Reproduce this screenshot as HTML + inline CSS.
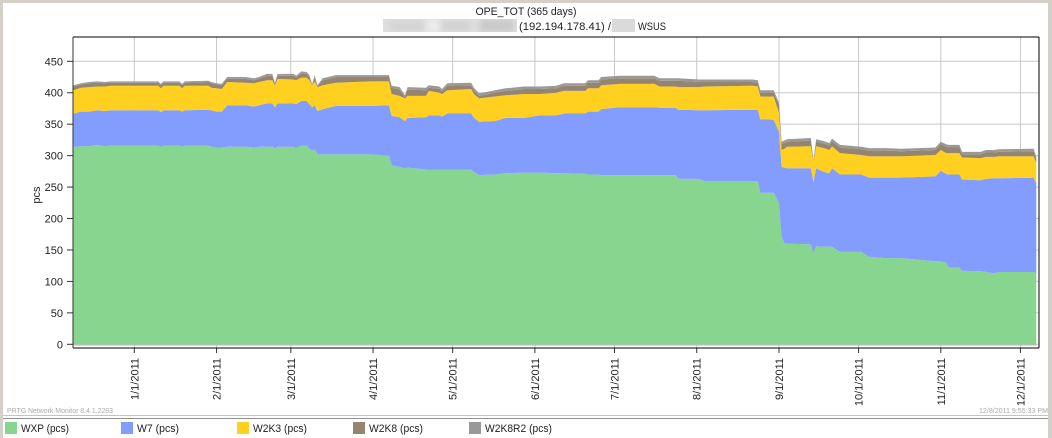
<!DOCTYPE html>
<html lang="en">
<head>
<meta charset="utf-8">
<title>OPE_TOT (365 days)</title>
<style>
html,body{margin:0;padding:0;background:#fff;width:1052px;height:438px;overflow:hidden}
svg{display:block;font-family:"Liberation Sans",Arial,sans-serif}
</style>
</head>
<body>
<svg id="chart" width="1052" height="438" viewBox="0 0 1052 438" xmlns="http://www.w3.org/2000/svg">
  <defs>
    <filter id="blurry" x="-10%" y="-30%" width="120%" height="160%"><feGaussianBlur stdDeviation="3"/></filter>
    <clipPath id="blur-clip-a"><rect x="383" y="19" width="134" height="13"/></clipPath>
  </defs>
  <rect width="1052" height="438" fill="#ffffff"/>
  <rect x="0" y="0" width="1052" height="3" fill="#d4d0c8"/>
  <rect x="0" y="0" width="3" height="438" fill="#d4d0c8"/>
  <rect x="1048" y="0" width="4" height="438" fill="#d4d0c8"/>

  <text x="526" y="15" text-anchor="middle" font-size="11" fill="#222" textLength="101" lengthAdjust="spacingAndGlyphs">OPE_TOT (365 days)</text>
  <g clip-path="url(#blur-clip-a)">
    <rect x="383" y="19" width="134" height="13" fill="#dedede"/>
    <g filter="url(#blurry)">
      <rect x="390" y="22" width="34" height="8" fill="#d2d2d2"/>
      <rect x="442" y="22" width="28" height="8" fill="#d0d0d0"/>
      <rect x="480" y="19" width="34" height="13" fill="#cacaca"/>
      <rect x="427" y="19" width="12" height="13" fill="#ececec"/>
    </g>
  </g>
  <text x="519" y="30" font-size="11" fill="#222" textLength="92" lengthAdjust="spacingAndGlyphs">(192.194.178.41) /</text>
  <rect x="612" y="19" width="23" height="13" fill="#dadada"/>
  <text x="638" y="30" font-size="11" fill="#222" textLength="28" lengthAdjust="spacingAndGlyphs">WSUS</text>

  <g id="grid"></g>
  <g id="areas"></g>
  <g id="axes"></g>

  <text x="7" y="413" font-size="7.5" fill="#aaaaaa" textLength="106" lengthAdjust="spacingAndGlyphs">PRTG Network Monitor 8.4.1.2283</text>
  <text x="979" y="413" font-size="7.5" fill="#aaaaaa" textLength="69" lengthAdjust="spacingAndGlyphs">12/8/2011 9:55:33 PM</text>
  <rect x="3" y="415" width="1045" height="1" fill="#c4c4c4"/>
  <rect x="3" y="418" width="1045" height="1" fill="#909090"/>

  <g>
    <rect x="5" y="422" width="12" height="12" fill="#88d590"/>
    <text x="21" y="432" font-size="11" fill="#222" textLength="48" lengthAdjust="spacingAndGlyphs">WXP (pcs)</text>
  </g>
  <g>
    <rect x="121" y="422" width="12" height="12" fill="#829dfe"/>
    <text x="137" y="432" font-size="11" fill="#222" textLength="42" lengthAdjust="spacingAndGlyphs">W7 (pcs)</text>
  </g>
  <g>
    <rect x="237" y="422" width="12" height="12" fill="#ffd01f"/>
    <text x="253" y="432" font-size="11" fill="#222" textLength="54" lengthAdjust="spacingAndGlyphs">W2K3 (pcs)</text>
  </g>
  <g>
    <rect x="353" y="422" width="12" height="12" fill="#958470"/>
    <text x="369" y="432" font-size="11" fill="#222" textLength="54" lengthAdjust="spacingAndGlyphs">W2K8 (pcs)</text>
  </g>
  <g>
    <rect x="469" y="422" width="12" height="12" fill="#999999"/>
    <text x="485" y="432" font-size="11" fill="#222" textLength="67" lengthAdjust="spacingAndGlyphs">W2K8R2 (pcs)</text>
  </g>
</svg>
<script>
// Days since 1 Jan 2011
const days = [-23,-20,-17,-14,-11,-9,9,10,11,17,18,19,28,29,31,33,35,42,45,47,50,52,53,54,60,61,63,65,66,67,68,69,71,76,89,96,97,100,102,103,110,111,115,116,118,127,128,130,136,140,147,153,159,162,170,171,175,176,183,196,198,204,205,213,215,233,235,236,241,243,244,245,246,255,256,257,260,262,263,266,274,277,283,289,302,304,306,307,311,312,319,321,324,326,339,340];
const wxp = [314,315,315,317,315,316,316,314,316,316,314,316,316,314,313,313,314,314,313,314,314,314,311,314,314,312,316,316,311,308,310,302,302,302,302,300,285,282,280,281,278,278,278,278,278,278,274,269,270,272,273,273,272,272,271,270,270,269,269,269,269,269,263,263,259,259,259,241,241,225,171,161,160,159,145,156,155,155,155,147,147,139,137,137,132,132,130,122,122,117,116,115,113,115,115,112];
const w7 = [53,55,55,55,56,56,56,55,56,56,56,56,57,58,57,57,66,66,65,66,69,69,66,69,69,70,71,71,71,69,70,69,72,77,77,80,78,79,75,79,83,86,86,84,89,89,86,85,85,88,87,91,92,95,96,100,100,105,108,108,107,107,110,109,113,114,114,117,116,113,111,120,120,121,113,124,119,117,125,123,123,126,128,128,135,144,141,148,148,145,145,148,151,149,150,144];
const w2k3 = [37,38,39,38,39,39,39,38,39,39,37,39,38,36,37,36,37,36,37,37,37,37,35,39,38,38,37,37,38,35,38,38,38,37,39,38,35,34,36,35,34,39,36,36,37,39,38,37,39,36,38,34,36,36,36,37,37,38,37,37,34,34,36,37,38,38,37,36,37,30,27,30,34,35,32,35,38,37,35,34,31,34,34,34,34,33,33,34,34,35,35,35,34,35,34,32];
const w2k8 = [6,5,6,6,5,5,5,5,5,5,5,5,6,7,6,6,5,6,5,5,7,7,2,5,6,4,7,6,5,0,7,1,8,9,7,7,10,10,2,10,9,5,6,4,7,6,6,4,6,7,8,8,7,8,8,9,9,9,9,9,9,9,10,8,7,6,6,6,6,12,9,9,8,9,1,7,7,7,8,9,9,9,9,8,8,9,10,9,9,5,6,7,7,7,8,6];
const w2k8r2 = [2,2,2,2,2,2,2,2,2,2,2,2,2,2,2,2,3,3,3,3,3,3,2,3,3,3,3,3,3,2,3,2,3,3,3,3,3,4,3,4,4,4,4,4,4,4,4,4,4,4,4,4,4,4,4,4,4,4,4,4,4,4,4,4,4,4,4,4,4,4,4,4,4,4,2,4,4,4,4,4,4,4,4,4,4,4,4,4,4,4,4,4,4,4,4,4];
const seriesNames = ['wxp','w7','w2k3','w2k8','w2k8r2'];
const seriesColors = ['#88d590','#829dfe','#ffd01f','#958470','#999999'];
const yTicks = [0,50,100,150,200,250,300,350,400,450];
const xTickLabels = ['1/1/2011','2/1/2011','3/1/2011','4/1/2011','5/1/2011','6/1/2011','7/1/2011','8/1/2011','9/1/2011','10/1/2011','11/1/2011','12/1/2011'];
const xTickDays = [0,31,59,90,120,151,181,212,243,273,304,334];

const NS = 'http://www.w3.org/2000/svg';
const plot = {left:73, right:1039, top:37, bottom:348};
function xScale(d){ return 134.3 + d * 2.653; }
function yScale(v){ return 344.3 - v * 0.6289; }
function make(tag, attrs, parent){
  const el = document.createElementNS(NS, tag);
  for (const k in attrs) el.setAttribute(k, attrs[k]);
  parent.appendChild(el);
  return el;
}
const gridG = document.getElementById('grid');
const areasG = document.getElementById('areas');
const axesG = document.getElementById('axes');

yTicks.forEach(function(v){
  const y = yScale(v);
  const g = make('line', {x1:plot.left, x2:plot.right, y1:y, y2:y, stroke:'#c8c8c8', 'stroke-width':1}, gridG);
  
  
  const t = make('line', {x1:plot.left-6, x2:plot.left, y1:y, y2:y, stroke:'#333', 'stroke-width':1}, axesG);
  
  
  const l = make('text', {x:plot.left-10, y:y+4, 'text-anchor':'end', 'font-size':11, fill:'#222'}, axesG);
  
  
  l.textContent = String(v);
});
xTickDays.forEach(function(d, i){
  const x = xScale(d);
  const g = make('line', {x1:x, x2:x, y1:plot.top, y2:plot.bottom, stroke:'#c8c8c8', 'stroke-width':1}, gridG);
  
  
  const t = make('line', {x1:x, x2:x, y1:plot.bottom, y2:plot.bottom+5, stroke:'#333', 'stroke-width':1}, axesG);
  
  
  const l = make('text', {x:0, y:0, 'text-anchor':'end', 'font-size':11, fill:'#222', transform:'translate(' + (x+4) + ',358) rotate(-90)'}, axesG);
  
  
  l.textContent = xTickLabels[i];
});

const seriesValues = [wxp, w7, w2k3, w2k8, w2k8r2];
let baseline = days.map(function(){ return 0; });
seriesValues.forEach(function(vals, s){
  const tops = vals.map(function(v, i){ return baseline[i] + v; });
  const upper = days.map(function(d, i){ return xScale(d).toFixed(1) + ',' + yScale(tops[i]).toFixed(1); });
  const lower = days.map(function(d, i){ return xScale(d).toFixed(1) + ',' + yScale(baseline[i]).toFixed(1); }).reverse();
  const a = make('polygon', {points:upper.concat(lower).join(' '), fill:seriesColors[s]}, areasG);
  
  
  baseline = tops;
});
const zeroLine = make('line', {x1:plot.left, x2:xScale(days[days.length-1]), y1:yScale(0)+0.7, y2:yScale(0)+0.7, stroke:'#b4b4b4', 'stroke-width':1}, areasG);



const axisLines = [
  ['plot-border-top', plot.left, plot.top, plot.right, plot.top, '#000'],
  ['plot-border-bottom', plot.left, plot.bottom, plot.right, plot.bottom, '#000'],
  ['plot-border-right', plot.right, plot.top, plot.right, plot.bottom, '#000'],
  ['plot-border-left', plot.left, plot.top, plot.left, plot.bottom, '#333']
];
axisLines.forEach(function(b){
  const ln = make('line', {x1:b[1], y1:b[2], x2:b[3], y2:b[4], stroke:b[5], 'stroke-width':1}, axesG);
  
  
});
const yTitle = make('text', {x:0, y:0, 'text-anchor':'middle', 'font-size':11, fill:'#222', transform:'translate(40,195) rotate(-90)'}, axesG);


yTitle.textContent = 'pcs';
</script>
</body>
</html>
